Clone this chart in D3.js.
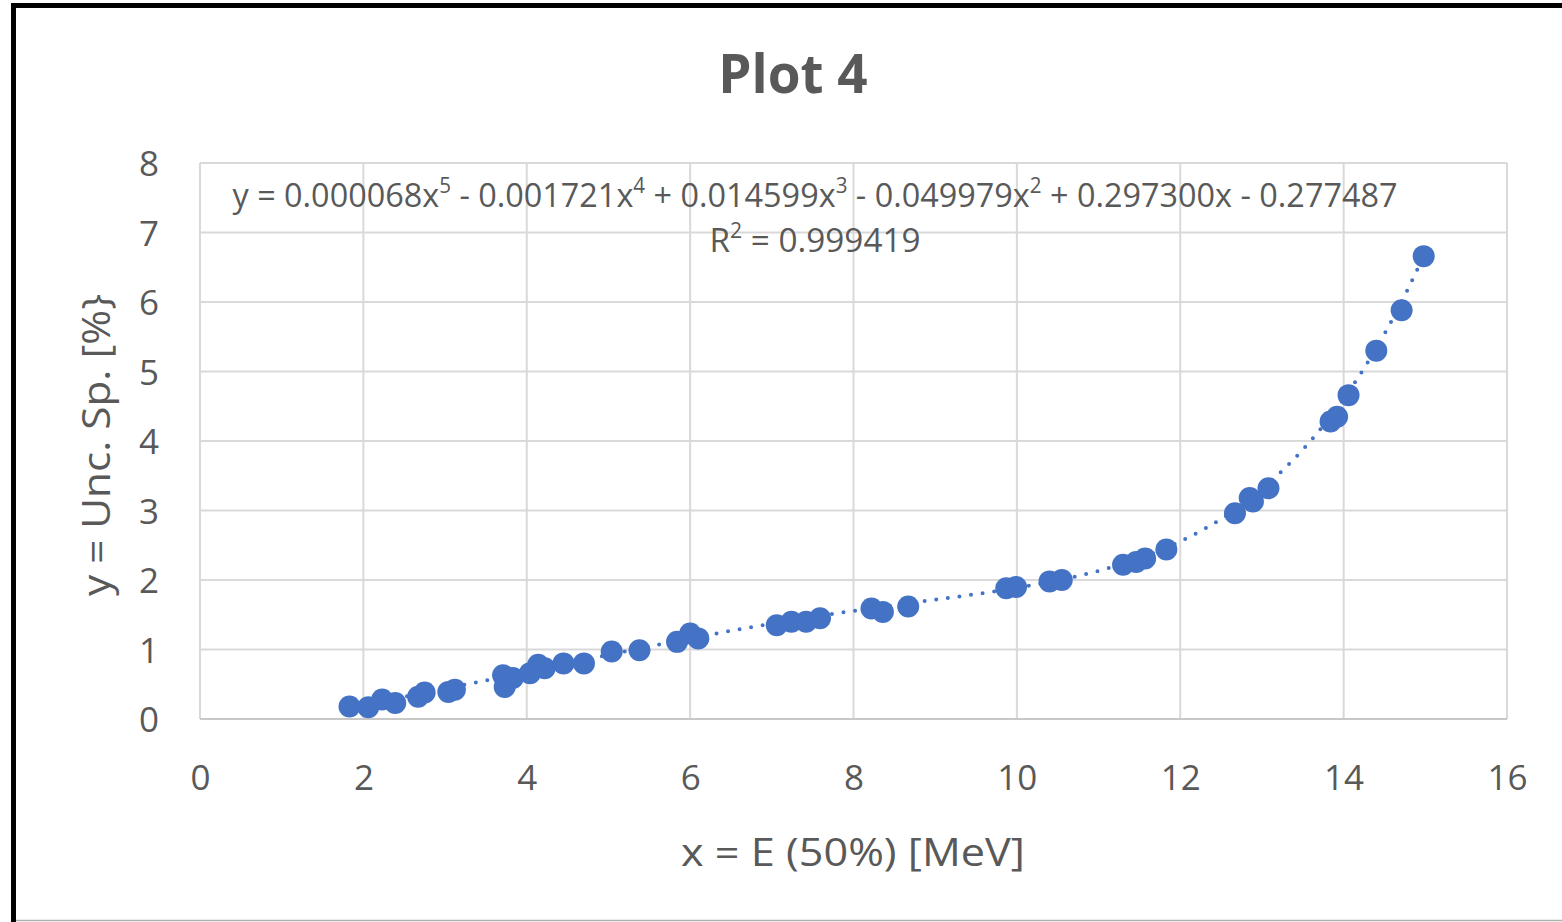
<!DOCTYPE html>
<html>
<head>
<meta charset="utf-8">
<style>
  body { margin: 0; background: #fff; }
  svg text { font-family: "Open Sans", "DejaVu Sans", sans-serif; fill: #595959; }
  .grid line { stroke: #d9d9d9; stroke-width: 2; }
  .axis .domain, .axis line { display: none; }
</style>
<script src="https://cdn.jsdelivr.net/npm/d3@7"></script>
</head>
<body>
<svg width="1562" height="922"></svg>
<script>
// measured points, E(50%) in MeV vs uncertainty in %
var energy = [1.83, 2.06, 2.23, 2.39, 2.67, 2.75, 3.04, 3.12, 3.71, 3.73, 3.83, 4.04, 4.14, 4.22,
              4.45, 4.70, 5.04, 5.38, 5.84, 6.00, 6.10, 7.06, 7.24, 7.42, 7.59, 8.22, 8.36, 8.67,
              9.87, 9.99, 10.40, 10.55, 11.30, 11.46, 11.57, 11.83, 12.67, 12.85, 12.89, 13.08,
              13.84, 13.92, 14.06, 14.40, 14.71, 14.98];
var uncSp = [0.18, 0.17, 0.28, 0.23, 0.32, 0.38, 0.39, 0.42, 0.63, 0.46, 0.59, 0.66, 0.78, 0.73,
             0.80, 0.80, 0.97, 0.99, 1.11, 1.23, 1.16, 1.35, 1.40, 1.40, 1.45, 1.59, 1.54, 1.62,
             1.88, 1.90, 1.98, 2.00, 2.22, 2.26, 2.31, 2.44, 2.96, 3.18, 3.13, 3.32,
             4.28, 4.35, 4.66, 5.30, 5.88, 6.66];
// poly trendline coefficients as printed on the chart (x^5 ... x^0)
var coeffs = [0.000068, -0.001721, 0.014599, -0.049979, 0.297300, -0.277487];
var xTicks = [0, 2, 4, 6, 8, 10, 12, 14, 16];
var yTicks = [0, 1, 2, 3, 4, 5, 6, 7, 8];

var svg = d3.select("svg");

// outer frame of the screenshot
svg.append("line").attr("x1", 11).attr("x2", 1562).attr("y1", 5.5).attr("y2", 5.5)
  .attr("stroke", "#000").attr("stroke-width", 5);
svg.append("line").attr("x1", 13.5).attr("x2", 13.5).attr("y1", 3).attr("y2", 922)
  .attr("stroke", "#000").attr("stroke-width", 5);
svg.append("line").attr("x1", 16).attr("x2", 1562).attr("y1", 920.5).attr("y2", 920.5)
  .attr("stroke", "#b0b0b0").attr("stroke-width", 1.5);

var x = d3.scaleLinear().domain([0, 16]).range([200, 1507]);
var y = d3.scaleLinear().domain([0, 8]).range([719, 163]);

// gridlines
var grid = svg.append("g").attr("class", "grid");
grid.selectAll(".h").data(yTicks).enter().append("line")
  .attr("x1", x(0)).attr("x2", x(16))
  .attr("y1", function(d) { return y(d); }).attr("y2", function(d) { return y(d); });
grid.selectAll(".v").data(xTicks).enter().append("line")
  .attr("y1", y(0)).attr("y2", y(8))
  .attr("x1", function(d) { return x(d); }).attr("x2", function(d) { return x(d); });
svg.append("line").attr("x1", x(0)).attr("x2", x(16)).attr("y1", y(0)).attr("y2", y(0))
  .attr("stroke", "#c8c8c8").attr("stroke-width", 2);

// axes (labels only)
svg.append("g").attr("class", "axis")
  .attr("transform", "translate(0," + y(0) + ")")
  .call(d3.axisBottom(x).tickValues(xTicks).tickSize(0).tickPadding(0))
  .selectAll("text")
    .attr("y", 0).attr("dy", "71px")
    .style("font-size", "35px");

svg.append("g").attr("class", "axis")
  .attr("transform", "translate(" + x(0) + ",0)")
  .call(d3.axisLeft(y).tickValues(yTicks).tickSize(0).tickPadding(0))
  .selectAll("text")
    .attr("x", -41).attr("dy", "0.36em")
    .style("font-size", "35px");
svg.selectAll(".axis").attr("font-family", null).attr("font-size", null);

// trendline
var fit = function(v) {
  return coeffs.reduce(function(acc, c) { return acc * v + c; }, 0);
};
var xMin = d3.min(energy), xMax = d3.max(energy);
var fitX = d3.range(xMin, xMax, 0.05).concat([xMax]);
svg.append("path")
  .datum(fitX)
  .attr("fill", "none")
  .attr("stroke", "#4472c4")
  .attr("stroke-width", 4)
  .attr("stroke-linecap", "round")
  .attr("stroke-dasharray", "0,11.7")
  .attr("d", d3.line().x(function(d) { return x(d); }).y(function(d) { return y(fit(d)); }));

// points
svg.append("g").selectAll("circle")
  .data(energy.map(function(e, i) { return [e, uncSp[i]]; }))
  .enter().append("circle")
    .attr("cx", function(d) { return x(d[0]); })
    .attr("cy", function(d) { return y(d[1]); })
    .attr("r", 11)
    .attr("fill", "#4472c4");

// equation label; superscripts via baseline-shift
function addParts(sel, parts) {
  parts.forEach(function(p) {
    sel.append("tspan").text(p[0]);
    if (p[1]) sel.append("tspan").attr("baseline-shift", "super").style("font-size", "21px").text(p[1]);
  });
}
var eq = svg.append("text").attr("x", 815).attr("y", 207)
  .attr("text-anchor", "middle").style("font-size", "33px")
  .attr("textLength", 1165).attr("lengthAdjust", "spacingAndGlyphs");
addParts(eq, [["y = 0.000068x", "5"], [" - 0.001721x", "4"], [" + 0.014599x", "3"],
              [" - 0.049979x", "2"], [" + 0.297300x - 0.277487", null]]);
var r2 = svg.append("text").attr("x", 815).attr("y", 252)
  .attr("text-anchor", "middle").style("font-size", "33px")
  .attr("textLength", 211).attr("lengthAdjust", "spacingAndGlyphs");
addParts(r2, [["R", "2"], [" = 0.999419", null]]);

// titles
svg.append("text").attr("x", 793).attr("y", 93).attr("text-anchor", "middle")
  .style("font-size", "53px").style("font-weight", "bold").text("Plot 4");
svg.append("text").attr("x", 853).attr("y", 866).attr("text-anchor", "middle")
  .style("font-size", "39px").attr("textLength", 344).attr("lengthAdjust", "spacingAndGlyphs")
  .text("x = E (50%) [MeV]");
svg.append("text").attr("transform", "translate(110,445) rotate(-90)").attr("text-anchor", "middle")
  .style("font-size", "39px").attr("textLength", 302).attr("lengthAdjust", "spacingAndGlyphs")
  .text("y = Unc. Sp. [%}");
</script>
</body>
</html>
